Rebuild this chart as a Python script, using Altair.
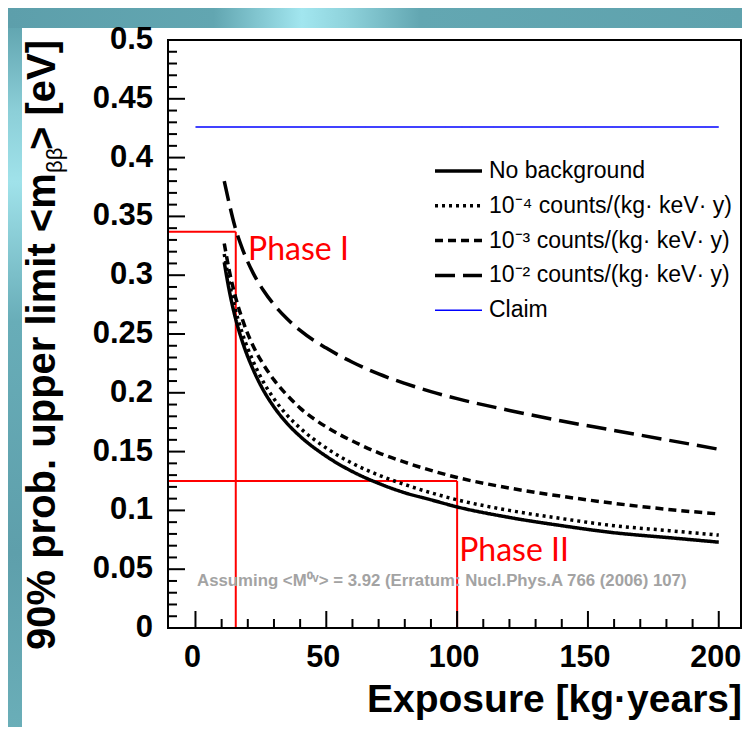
import altair as alt
import pandas as pd

# ---------------- data ----------------
exposure = [11, 13, 15, 18, 22, 26, 30, 35, 40, 50, 60, 70, 80, 90, 100, 120, 140, 160, 180, 200]
no_bkg   = [0.311, 0.286, 0.266, 0.243, 0.220, 0.202, 0.188, 0.174, 0.163, 0.146, 0.133, 0.123, 0.115, 0.109, 0.103, 0.094, 0.087, 0.081, 0.077, 0.073]
bkg_1e4  = [0.318, 0.293, 0.273, 0.250, 0.227, 0.209, 0.195, 0.181, 0.170, 0.153, 0.140, 0.130, 0.122, 0.115, 0.109, 0.100, 0.093, 0.087, 0.083, 0.079]
bkg_1e3  = [0.327, 0.303, 0.284, 0.262, 0.240, 0.224, 0.211, 0.198, 0.187, 0.171, 0.159, 0.149, 0.141, 0.134, 0.128, 0.119, 0.112, 0.106, 0.101, 0.097]
bkg_1e2  = [0.380, 0.360, 0.342, 0.322, 0.302, 0.287, 0.275, 0.263, 0.253, 0.238, 0.226, 0.216, 0.208, 0.201, 0.195, 0.185, 0.176, 0.168, 0.160, 0.152]
claim_x  = [0, 200]
claim_y  = [0.426, 0.426]

series_names = ["No background",
                "10⁻⁴ counts/(kg· keV· y)",
                "10⁻³ counts/(kg· keV· y)",
                "10⁻² counts/(kg· keV· y)",
                "Claim"]
series_colors = ["#000000", "#000000", "#000000", "#000000", "#0000ff"]
series_dash = [[1, 0], [3, 4], [8, 5], [20, 8], [1, 0]]
series_width = [3.5, 3.5, 3.5, 3.5, 1.6]

phase_x = [15.4, 100]
phase_y = [0.337, 0.125]
phase_labels = ["Phase I", "Phase II"]
phase_label_x = [20.1, 100.8]
phase_label_y = [0.313, 0.057]

note_text = ["Assuming <M⁰ᵛ> = 3.92 (Erratum: Nucl.Phys.A 766 (2006) 107)"]
note_x = [0.6]
note_y = [0.036]

x_major = [0, 50, 100, 150, 200]
x_major_labels = ["0", "50", "100", "150", "200"]
x_minor = [10, 20, 30, 40, 60, 70, 80, 90, 110, 120, 130, 140, 160, 170, 180, 190]
y_major = [0, 0.05, 0.1, 0.15, 0.2, 0.25, 0.3, 0.35, 0.4, 0.45, 0.5]
y_major_labels = ["0", "0.05", "0.1", "0.15", "0.2", "0.25", "0.3", "0.35", "0.4", "0.45", "0.5"]
y_minor = [round(i * 0.01, 2) for i in range(1, 50) if i % 5]

x_title = "Exposure [kg·years]"
y_title_parts = ["90% prob. upper limit <m", "ββ", "> [eV]"]

X_MIN, X_MAX = -10.5, 208.5

# ---------------- tables ----------------
rows = []
for name, vals in zip(series_names[:4], [no_bkg, bkg_1e4, bkg_1e3, bkg_1e2]):
    for xv, yv in zip(exposure, vals):
        rows.append({"exposure": xv, "limit": yv, "series": name})
for xv, yv in zip(claim_x, claim_y):
    rows.append({"exposure": xv, "limit": yv, "series": series_names[4]})
curves = pd.DataFrame(rows)

phases = pd.DataFrame({"px": phase_x, "py": phase_y, "label": phase_labels,
                       "lx": phase_label_x, "ly": phase_label_y,
                       "x0": [X_MIN] * len(phase_x), "y0": [0] * len(phase_x)})
note = pd.DataFrame({"t": note_text, "nx": note_x, "ny": note_y})
one = pd.DataFrame({"a": [0]})
xlab = pd.DataFrame({"v": x_major, "t": x_major_labels})
ylab = pd.DataFrame({"v": y_major, "t": y_major_labels})

W, H = 573, 588
xs = alt.Scale(domain=[X_MIN, X_MAX], nice=False, zero=False)
ys = alt.Scale(domain=[0, 0.5], nice=False, zero=False)

FONT = "Liberation Sans"

top_grad = alt.LinearGradient(
    gradient="linear", x1=0, y1=0, x2=1, y2=0,
    stops=[alt.GradientStop(color="#5d9fab", offset=0),
           alt.GradientStop(color="#62a6b1", offset=0.28),
           alt.GradientStop(color="#a2e6ef", offset=0.40),
           alt.GradientStop(color="#8fd3dc", offset=0.46),
           alt.GradientStop(color="#63a7b2", offset=0.56),
           alt.GradientStop(color="#5fa2ad", offset=1)])
left_grad = alt.LinearGradient(
    gradient="linear", x1=0, y1=0, x2=0, y2=1,
    stops=[alt.GradientStop(color="#62a6b1", offset=0),
           alt.GradientStop(color="#8ccfd8", offset=0.12),
           alt.GradientStop(color="#a0e2ea", offset=0.22),
           alt.GradientStop(color="#68adb8", offset=0.42),
           alt.GradientStop(color="#5e9fab", offset=0.75),
           alt.GradientStop(color="#6aaeb8", offset=1)])

band_top = alt.Chart(one).mark_rect(color=top_grad).encode(
    x=alt.value(-160), x2=alt.value(W + 2), y=alt.value(-32), y2=alt.value(-12))
band_left = alt.Chart(one).mark_rect(color=left_grad).encode(
    x=alt.value(-160), x2=alt.value(-146), y=alt.value(-12), y2=alt.value(H + 100))

legend = alt.Legend(title=None, orient="none", legendX=279, legendY=119.5,
                    symbolType="M-2.5,0H2.5", symbolSize=353, labelOffset=19,
                    labelFont=FONT, labelFontSize=23, labelColor="black",
                    labelLimit=400, rowPadding=10.8, padding=0, zindex=2)

lines = alt.Chart(curves).mark_line(interpolate="monotone", strokeCap="butt").encode(
    x=alt.X("exposure:Q", scale=xs, axis=None),
    y=alt.Y("limit:Q", scale=ys, axis=None),
    color=alt.Color("series:N", scale=alt.Scale(domain=series_names, range=series_colors),
                    legend=legend),
    strokeDash=alt.StrokeDash("series:N", scale=alt.Scale(domain=series_names, range=series_dash),
                              legend=legend),
    strokeWidth=alt.StrokeWidth("series:N",
                                scale=alt.Scale(type="ordinal", domain=series_names, range=series_width),
                                legend=legend),
)

red_h = alt.Chart(phases).mark_rule(color="#ff0000", strokeWidth=2).encode(
    x=alt.X("x0:Q", scale=xs, axis=None), x2="px:Q", y=alt.Y("py:Q", scale=ys, axis=None))
red_v = alt.Chart(phases).mark_rule(color="#ff0000", strokeWidth=2).encode(
    x=alt.X("px:Q", scale=xs, axis=None), y=alt.Y("py:Q", scale=ys, axis=None), y2="y0:Q")

phase_txt = alt.Chart(phases).mark_text(font="Lato", fontSize=32, color="#ff0000",
                                        align="left", baseline="alphabetic").encode(
    x=alt.X("lx:Q", scale=xs, axis=None), y=alt.Y("ly:Q", scale=ys, axis=None), text="label:N")

note_txt = alt.Chart(note).mark_text(font=FONT, fontSize=16.8, fontWeight="bold", color="#a3a3a3",
                                     align="left", baseline="alphabetic").encode(
    x=alt.X("nx:Q", scale=xs, axis=None), y=alt.Y("ny:Q", scale=ys, axis=None), text="t:N")

ytmaj = alt.Chart(pd.DataFrame({"v": y_major})).mark_rule(color="black", strokeWidth=2).encode(
    y=alt.Y("v:Q", scale=ys, axis=None), x=alt.value(0), x2=alt.value(17))
ytmin = alt.Chart(pd.DataFrame({"v": y_minor})).mark_rule(color="black", strokeWidth=2).encode(
    y=alt.Y("v:Q", scale=ys, axis=None), x=alt.value(0), x2=alt.value(9))
xtmaj = alt.Chart(pd.DataFrame({"v": x_major})).mark_rule(color="black", strokeWidth=2).encode(
    x=alt.X("v:Q", scale=xs, axis=None), y=alt.value(H), y2=alt.value(H - 17))
xtmin = alt.Chart(pd.DataFrame({"v": x_minor})).mark_rule(color="black", strokeWidth=2).encode(
    x=alt.X("v:Q", scale=xs, axis=None), y=alt.value(H), y2=alt.value(H - 9))

# tick labels placed through the scales
xlabels = alt.Chart(xlab).mark_text(font=FONT, fontSize=30.5, fontWeight="bold", color="black",
                                    align="center", baseline="top", dx=-3).encode(
    x=alt.X("v:Q", scale=xs, axis=None), y=alt.value(H + 15), text="t:N")
ylabels = alt.Chart(ylab).mark_text(font=FONT, fontSize=31, fontWeight="bold", color="black",
                                    align="right", baseline="middle").encode(
    y=alt.Y("v:Q", scale=ys, axis=None), x=alt.value(-15), text="t:N")

frame = alt.Chart(one).mark_rect(filled=False, stroke="black", strokeWidth=2).encode(
    x=alt.value(0), x2=alt.value(W), y=alt.value(0), y2=alt.value(H))
shadow = alt.Chart(one).mark_rule(color="#8a8a8a", strokeWidth=2).encode(
    x=alt.value(W + 2), y=alt.value(2), y2=alt.value(H + 1))

xt = alt.Chart(one).mark_text(text=x_title, font=FONT, fontSize=39, fontWeight="bold",
                              align="right", baseline="alphabetic", color="black").encode(
    x=alt.value(W + 1), y=alt.value(H + 84))

TX = -113
yt1 = alt.Chart(one).mark_text(text=y_title_parts[0], font=FONT, fontSize=40,
                               fontWeight="bold", angle=270, align="left",
                               baseline="alphabetic", color="black").encode(
    x=alt.value(TX), y=alt.value(610))
yt2 = alt.Chart(one).mark_text(text=y_title_parts[1], font=FONT, fontSize=22, angle=270, align="left",
                               baseline="alphabetic", color="black").encode(
    x=alt.value(TX + 7), y=alt.value(133))
yt3 = alt.Chart(one).mark_text(text=y_title_parts[2], font=FONT, fontSize=40, fontWeight="bold",
                               angle=270, align="left", baseline="alphabetic", color="black").encode(
    x=alt.value(TX), y=alt.value(110))

chart = alt.layer(
    band_top, band_left, red_h, red_v, lines, ytmaj, ytmin, xtmaj, xtmin, frame, shadow,
    xlabels, ylabels, phase_txt, note_txt, xt, yt1, yt2, yt3
).properties(
    width=W, height=H,
    autosize=alt.AutoSizeParams(type="none"),
    padding={"left": 160, "top": 32, "right": 1, "bottom": 99},
    background="white",
).configure_view(strokeWidth=0)

chart.save("out.html", embed_options={"renderer": "svg", "actions": False})
